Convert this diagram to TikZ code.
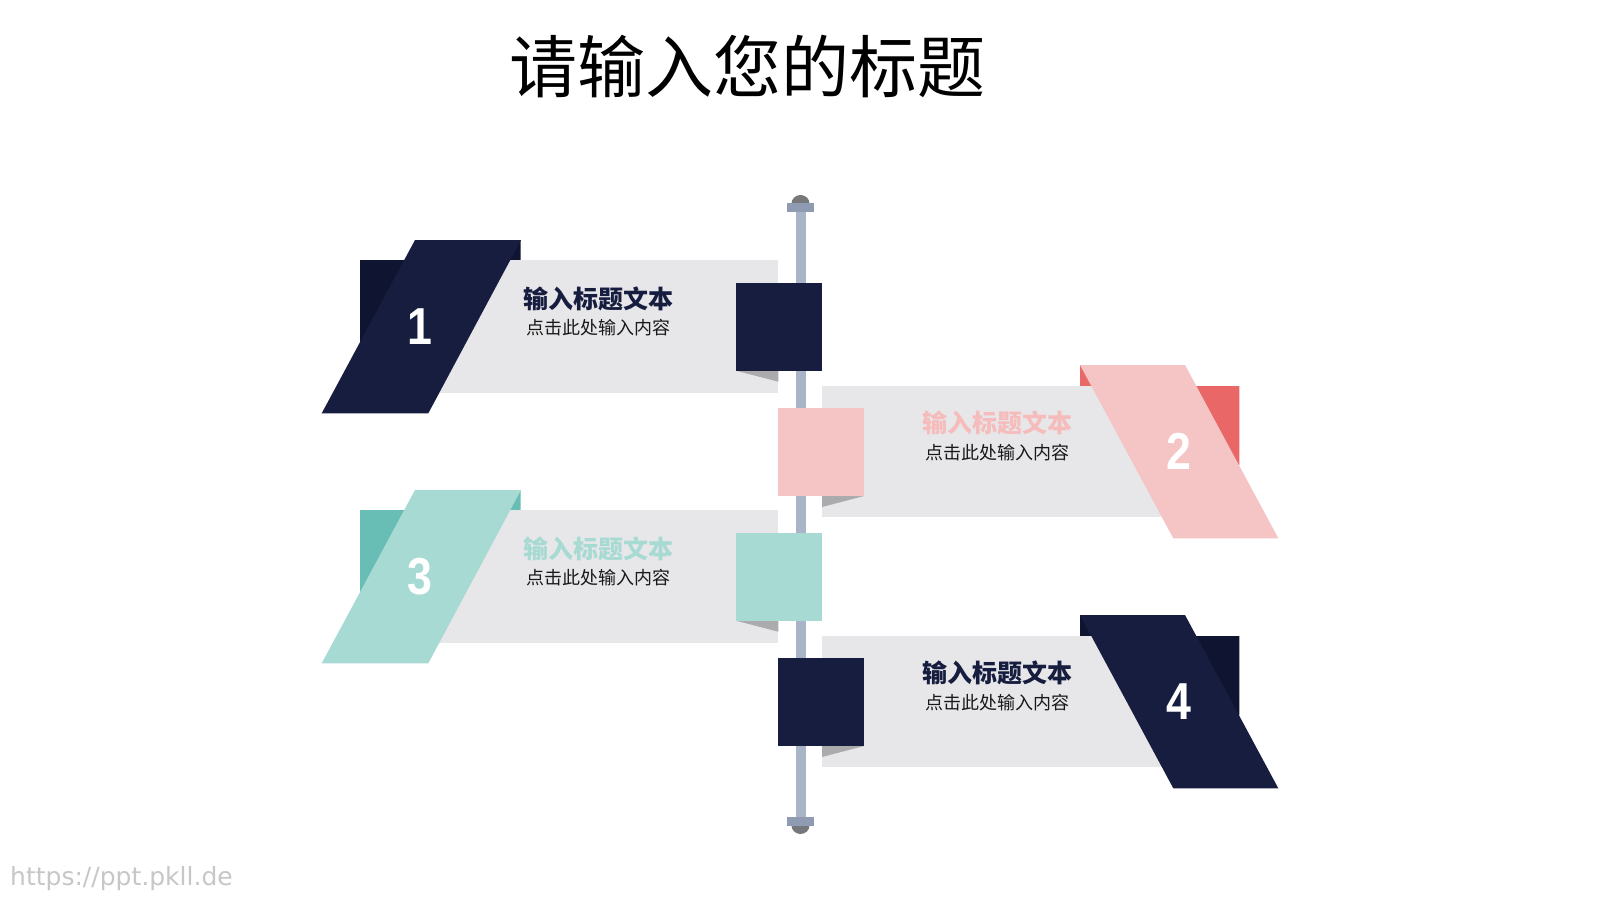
\documentclass[tikz,border=0pt]{standalone}
\usepackage{fontspec}
\setmainfont{Liberation Sans}
\newfontfamily\cjk{Noto Sans CJK SC}
\newfontfamily\webfont{DejaVu Sans}
\usetikzlibrary{positioning}
\definecolor{navy}{HTML}{161D3F}
\definecolor{navyback}{HTML}{0F1430}
\definecolor{pinkmain}{HTML}{F5C4C4}
\definecolor{pinkback}{HTML}{E96767}
\definecolor{pinktext}{HTML}{F6BCBC}
\definecolor{tealmain}{HTML}{A8DAD4}
\definecolor{tealback}{HTML}{68BDB4}
\definecolor{bandgray}{HTML}{E7E7E9}
\definecolor{pole}{HTML}{A9B4C6}
\definecolor{polebar}{HTML}{8F9BB3}
\definecolor{polecap}{HTML}{77787B}
\definecolor{fold}{HTML}{ABABAD}

\begin{document}
\begin{tikzpicture}[x=1pt,y=-1pt,every node/.style={inner sep=0pt},
  heading/.style={font=\cjk\bfseries\fontsize{25}{28}\selectfont},
  detail/.style={font=\cjk\fontsize{18}{21}\selectfont,text=black!90},
  number/.style={font=\bfseries\fontsize{52}{56}\selectfont,text=white}]
\fill[white] (0,0) rectangle (1600,900);
\useasboundingbox (0,0) rectangle (1600,900);
% title
\node[font=\cjk\fontsize{68}{72}\selectfont] (title) at (747.5,66.5) {请输入您的标题};
% pole with its two ends
\fill[pole] (795.5,207) rectangle (805.5,821);
\fill[polecap] (791.5,203.5) arc[start angle=180,end angle=360,x radius=9,y radius=8.5] -- cycle;
\fill[polecap] (791.5,825.5) arc[start angle=180,end angle=0,x radius=9,y radius=8.5] -- cycle;
\fill[polebar] (787.3,203.3) rectangle (814,211.7);
\fill[polebar] (787,817.3) rectangle (813.5,826);
% left flags
\foreach \dy/\main/\back/\tcol/\num in {0/navy/navyback/navy/1,250/tealmain/tealback/tealmain/3}{
  \begin{scope}[shift={(0,\dy)}]
    \fill[\back] (360,260) -- (490,260) -- (490,240) -- (520.5,240) -- (520.5,345) -- (360,345) -- cycle;
    \fill[bandgray] (420,260) rectangle (778.3,393.3);
    \fill[\main] (415,240) -- (521,240) -- (428.3,413.3) -- (321.7,413.3) -- cycle;
    \fill[fold] (736,370.7) -- (778.3,370.7) -- (778.3,381.7) -- cycle;
    \fill[\main] (736,282.7) rectangle (821.7,370.7);
    \node[heading,text=\tcol] (head\num) at (598.5,299) {输入标题文本};
    \node[detail,below=8pt of head\num] (sub\num) {点击此处输入内容};
    \node[number] (num\num) at (420,326.7) {\scalebox{0.86}[1]{\num}};
  \end{scope}}
% right flags
\foreach \dy/\main/\back/\tcol/\num in {0/pinkmain/pinkback/pinktext/2,250/navy/navyback/navy/4}{
  \begin{scope}[shift={(0,\dy)}]
    \fill[\back] (1080,365) -- (1110,365) -- (1110,386) -- (1239.3,386) -- (1239.3,465) -- (1080,465) -- cycle;
    \fill[bandgray] (822,386) rectangle (1178,517);
    \fill[\main] (1080,365) -- (1185,365) -- (1278.3,538.3) -- (1173.3,538.3) -- cycle;
    \fill[fold] (822,496) -- (864,496) -- (822,507) -- cycle;
    \fill[\main] (778,407.7) rectangle (864,496);
    \node[heading,text=\tcol] (head\num) at (997,423.3) {输入标题文本};
    \node[detail,below=8pt of head\num] (sub\num) {点击此处输入内容};
    \node[number] (num\num) at (1179.2,451.7) {\scalebox{0.86}[1]{\num}};
  \end{scope}}
% watermark
\node[font=\webfont\fontsize{25}{28}\selectfont,text=black!22,anchor=base west] (web) at (10,885) {https://ppt.pkll.de};
\end{tikzpicture}
\end{document}
